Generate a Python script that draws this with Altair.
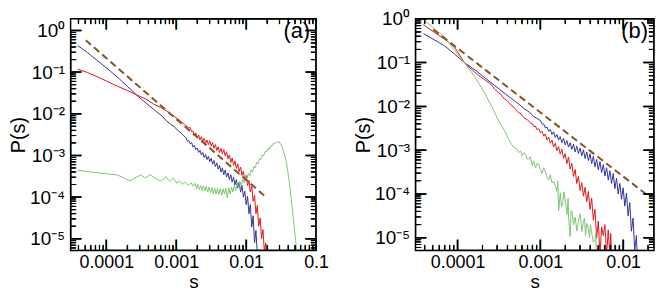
import altair as alt
import pandas as pd

FONT = "Liberation Sans"

# ---------------- tick values ----------------
a_x_major = [1e-4, 1e-3, 1e-2, 1e-1]
a_x_minor = [4e-5, 5e-5, 6e-5, 7e-5, 8e-5, 9e-5,
             2e-4, 3e-4, 4e-4, 5e-4, 6e-4, 7e-4, 8e-4, 9e-4,
             2e-3, 3e-3, 4e-3, 5e-3, 6e-3, 7e-3, 8e-3, 9e-3,
             2e-2, 3e-2, 4e-2, 5e-2, 6e-2, 7e-2, 8e-2, 9e-2]
b_x_major = [1e-4, 1e-3, 1e-2]
b_x_minor = [4e-5, 5e-5, 6e-5, 7e-5, 8e-5, 9e-5,
             2e-4, 3e-4, 4e-4, 5e-4, 6e-4, 7e-4, 8e-4, 9e-4,
             2e-3, 3e-3, 4e-3, 5e-3, 6e-3, 7e-3, 8e-3, 9e-3, 2e-2]
y_major = [1e-5, 1e-4, 1e-3, 1e-2, 1e-1, 1.0]
y_minor = [6e-6, 7e-6, 8e-6, 9e-6,
           2e-5, 3e-5, 4e-5, 5e-5, 6e-5, 7e-5, 8e-5, 9e-5,
           2e-4, 3e-4, 4e-4, 5e-4, 6e-4, 7e-4, 8e-4, 9e-4,
           2e-3, 3e-3, 4e-3, 5e-3, 6e-3, 7e-3, 8e-3, 9e-3,
           2e-2, 3e-2, 4e-2, 5e-2, 6e-2, 7e-2, 8e-2, 9e-2,
           0.2, 0.3, 0.4, 0.5, 0.6, 0.7, 0.8, 0.9]

# ---------------- panel (a) data: log10(s), log10(P) ----------------
a_blue_logs = [-4.41, -4.27, -4.13, -3.99, -3.84, -3.70, -3.56, -3.42, -3.28, -3.20, -3.14, -3.08, -3.03, -2.97, -2.93, -2.90,
               -2.86, -2.84, -2.82, -2.80, -2.78, -2.76, -2.74, -2.72, -2.70, -2.68, -2.66, -2.64, -2.62, -2.60, -2.58, -2.56,
               -2.54, -2.52, -2.50, -2.48, -2.46, -2.44, -2.42, -2.40, -2.38, -2.36, -2.34, -2.32, -2.30, -2.28, -2.26, -2.24,
               -2.22, -2.20, -2.18, -2.16, -2.14, -2.12, -2.10, -2.08, -2.06, -2.04, -2.02, -2.00, -1.98, -1.96, -1.94, -1.92,
               -1.90, -1.88, -1.86, -1.84]
a_blue_logp = [-0.36, -0.53, -0.72, -0.91, -1.12, -1.34, -1.56, -1.76, -1.95, -2.06, -2.17, -2.25, -2.31, -2.41, -2.46, -2.52,
               -2.58, -2.66, -2.64, -2.72, -2.69, -2.80, -2.76, -2.86, -2.82, -2.93, -2.88, -2.99, -2.93, -3.05, -2.98, -3.10,
               -3.02, -3.15, -3.07, -3.21, -3.12, -3.27, -3.18, -3.33, -3.24, -3.40, -3.30, -3.46, -3.35, -3.52, -3.42, -3.58,
               -3.46, -3.64, -3.52, -3.71, -3.58, -3.78, -3.64, -3.88, -3.72, -4.00, -3.86, -4.18, -3.98, -4.40, -4.18, -4.72,
               -4.45, -5.10, -4.80, -5.40]

a_red_logs = [-4.41, -4.27, -4.13, -3.99, -3.84, -3.70, -3.56, -3.42, -3.32, -3.22, -3.13, -3.04, -2.94, -2.88, -2.82,
              -2.80, -2.78, -2.76, -2.74, -2.72, -2.70, -2.68, -2.66, -2.64, -2.62, -2.60, -2.58, -2.56, -2.54, -2.52, -2.50,
              -2.48, -2.46, -2.44, -2.42, -2.40, -2.38, -2.36, -2.34, -2.32, -2.30, -2.28, -2.26, -2.24, -2.22, -2.20, -2.18,
              -2.16, -2.14, -2.12, -2.10, -2.08, -2.06, -2.04, -2.02, -2.00, -1.98, -1.96, -1.94, -1.92, -1.90, -1.88, -1.86,
              -1.84, -1.82, -1.80, -1.78, -1.76, -1.74, -1.72, -1.71]
a_red_logp = [-0.93, -1.01, -1.11, -1.22, -1.34, -1.44, -1.55, -1.66, -1.77, -1.85, -1.94, -2.05, -2.17, -2.26, -2.34,
              -2.33, -2.43, -2.41, -2.52, -2.46, -2.57, -2.51, -2.63, -2.55, -2.67, -2.59, -2.71, -2.63, -2.74, -2.65, -2.78,
              -2.69, -2.83, -2.74, -2.88, -2.79, -2.93, -2.83, -2.96, -2.86, -3.01, -2.91, -3.08, -2.99, -3.17, -3.06, -3.24,
              -3.13, -3.31, -3.20, -3.39, -3.28, -3.48, -3.38, -3.59, -3.48, -3.72, -3.60, -3.88, -3.74, -4.10, -3.96, -4.40,
              -4.20, -4.70, -4.50, -5.00, -4.78, -5.30, -5.10, -5.40]

a_green_logs = [-4.41, -3.84, -3.66, -3.59, -3.51, -3.44, -3.37, -3.30, -3.25, -3.21, -3.15, -3.09, -3.04, -2.99, -2.95,
                -2.91, -2.88, -2.83, -2.79, -2.76, -2.73, -2.71,
                -2.69, -2.67, -2.65, -2.63, -2.61, -2.59, -2.57, -2.55, -2.53, -2.51, -2.49, -2.47, -2.45, -2.43, -2.41,
                -2.39, -2.37, -2.35, -2.33, -2.31, -2.29, -2.27, -2.25, -2.23, -2.21, -2.19, -2.17, -2.15, -2.13, -2.11,
                -2.09, -2.07, -2.05, -2.03, -2.01, -1.99, -1.97, -1.95, -1.93, -1.91, -1.89, -1.87, -1.85, -1.83, -1.81,
                -1.79, -1.77, -1.75, -1.73, -1.71, -1.69, -1.67, -1.65, -1.63, -1.61, -1.59, -1.57, -1.55, -1.53, -1.51,
                -1.49, -1.47, -1.45, -1.43, -1.41, -1.39, -1.37, -1.35, -1.33, -1.31, -1.29, -1.27]
a_green_logp = [-3.36, -3.47, -3.61, -3.54, -3.47, -3.54, -3.46, -3.55, -3.59, -3.61, -3.51, -3.63, -3.54, -3.67, -3.61,
                -3.70, -3.64, -3.72, -3.65, -3.74, -3.67, -3.80,
                -3.70, -3.82, -3.72, -3.84, -3.73, -3.86, -3.74, -3.88, -3.76, -3.90, -3.77, -3.92, -3.78, -3.93, -3.79,
                -3.94, -3.80, -3.96, -3.80, -3.93, -3.79, -4.02, -3.78, -3.92, -3.76, -3.88, -3.72, -3.84, -3.68, -3.78,
                -3.63, -3.72, -3.57, -3.65, -3.50, -3.58, -3.43, -3.49, -3.35, -3.40, -3.26, -3.30, -3.17, -3.20, -3.08,
                -3.10, -2.99, -3.01, -2.91, -2.92, -2.84, -2.85, -2.77, -2.77, -2.71, -2.72, -2.68, -2.69, -2.67, -2.72,
                -2.78, -2.88, -2.99, -3.12, -3.32, -3.56, -3.82, -4.13, -4.45, -4.76, -5.08, -5.40]

a_dash_logs = [-4.294, -1.706]
a_dash_logp = [-0.233, -4.016]

# ---------------- panel (b) data ----------------
b_blue_logs = [-4.412, -4.28, -4.16, -4.04, -3.916, -3.788, -3.655, -3.499, -3.379, -3.259, -3.20, -3.139, -3.08, -3.019,
               -3.00, -2.98, -2.96, -2.94, -2.92, -2.90, -2.88, -2.86, -2.84, -2.82, -2.80, -2.78, -2.76, -2.74, -2.72,
               -2.70, -2.68, -2.66, -2.64, -2.62, -2.60, -2.58, -2.56, -2.54, -2.52, -2.50, -2.48, -2.46, -2.44, -2.42,
               -2.40, -2.38, -2.36, -2.34, -2.32, -2.30, -2.28, -2.26, -2.24, -2.22, -2.20, -2.18, -2.16, -2.14, -2.12,
               -2.10, -2.08, -2.06, -2.04, -2.02, -2.00, -1.98, -1.96, -1.94, -1.92, -1.90, -1.88, -1.86, -1.84, -1.83]
b_blue_logp = [-0.338, -0.482, -0.613, -0.80, -1.002, -1.17, -1.37, -1.60, -1.78, -1.95, -2.05, -2.12, -2.23, -2.30,
               -2.32, -2.40, -2.40, -2.49, -2.47, -2.57, -2.53, -2.64, -2.58, -2.71, -2.64, -2.77, -2.69, -2.83, -2.73,
               -2.88, -2.78, -2.93, -2.83, -2.98, -2.86, -3.04, -2.91, -3.08, -2.95, -3.13, -2.99, -3.19, -3.04, -3.24,
               -3.08, -3.31, -3.14, -3.38, -3.21, -3.45, -3.26, -3.51, -3.33, -3.59, -3.40, -3.68, -3.47, -3.76, -3.53,
               -3.88, -3.64, -4.00, -3.76, -4.12, -3.86, -4.28, -3.98, -4.50, -4.20, -4.85, -4.55, -5.30, -4.95, -5.40]

b_red_logs = [-4.415, -4.28, -4.156, -4.036, -3.916, -3.836, -3.755, -3.679, -3.595, -3.555, -3.515, -3.476, -3.436,
              -3.395, -3.355, -3.315, -3.275, -3.235, -3.199, -3.155, -3.115,
              -3.10, -3.08, -3.06, -3.04, -3.02, -3.00, -2.98, -2.96, -2.94, -2.92, -2.90, -2.88, -2.86, -2.84, -2.82,
              -2.80, -2.78, -2.76, -2.74, -2.72, -2.70, -2.68, -2.66, -2.64, -2.62, -2.60, -2.58, -2.56, -2.54, -2.52,
              -2.50, -2.48, -2.46, -2.44, -2.42, -2.40, -2.38, -2.36, -2.34, -2.32, -2.30, -2.28, -2.26, -2.24, -2.22,
              -2.20, -2.18, -2.16, -2.15, -2.14]
b_red_logp = [-0.133, -0.31, -0.465, -0.648, -1.002, -1.15, -1.277, -1.383, -1.498, -1.60, -1.67, -1.73, -1.83,
              -1.88, -1.969, -2.03, -2.124, -2.17, -2.257, -2.31, -2.383,
              -2.39, -2.46, -2.45, -2.53, -2.51, -2.60, -2.57, -2.68, -2.63, -2.77, -2.70, -2.84, -2.77, -2.93, -2.84,
              -3.01, -2.92, -3.09, -2.98, -3.19, -3.08, -3.31, -3.16, -3.43, -3.30, -3.60, -3.44, -3.76, -3.60, -3.92,
              -3.74, -4.05, -3.85, -4.18, -3.94, -4.35, -4.10, -4.60, -4.35, -5.00, -4.62, -5.40, -4.75, -4.95, -4.70,
              -5.40, -4.82, -5.40, -4.90, -5.40]

b_green_logs = [-4.408, -4.28, -4.156, -4.036, -3.916, -3.796, -3.676, -3.556, -3.499, -3.436,
                -3.379, -3.35, -3.319, -3.29, -3.259, -3.24, -3.220, -3.20, -3.179, -3.16, -3.139, -3.12, -3.100,
                -3.08, -3.059, -3.04, -3.019, -3.00, -2.980, -2.96, -2.939, -2.92, -2.899, -2.88, -2.86, -2.839,
                -2.819, -2.80, -2.79, -2.779, -2.759, -2.745, -2.731, -2.715, -2.699, -2.677, -2.665, -2.659, -2.639,
                -2.629, -2.619, -2.60, -2.579, -2.56, -2.539, -2.52, -2.499, -2.48, -2.467, -2.455, -2.439, -2.42,
                -2.407, -2.395, -2.379, -2.36, -2.339, -2.33, -2.323]
b_green_logp = [-0.029, -0.221, -0.427, -0.723, -1.002, -1.312, -1.681, -2.124, -2.352, -2.544,
                -2.759, -2.86, -2.942, -2.96, -3.053, -3.02, -3.126, -3.06, -3.097, -3.20, -3.201, -3.15, -3.347,
                -3.25, -3.407, -3.30, -3.312, -3.45, -3.533, -3.40, -3.496, -3.62, -3.679, -3.56, -3.74, -3.717,
                -3.827, -3.938, -3.70, -4.381, -3.976, -4.30, -4.226, -3.95, -4.159, -4.469, -4.10, -4.529, -4.971,
                -4.40, -4.381, -4.70, -4.529, -4.85, -4.602, -4.45, -4.861, -4.62, -4.558, -4.95, -4.675, -4.80,
                -5.0, -4.70, -4.896, -5.10, -5.044, -4.90, -5.40]

b_dash_logs = [-4.295, -1.719]
b_dash_logp = [-0.243, -4.011]

BLUE = "#33339a"
RED = "#e4161c"
GREEN = "#7fc477"
BROWN = "#855427"
INK = "#000000"

Y_LABEL_EXPR = ("datum.value > 0.5 ? '10\u2070' : datum.value > 0.05 ? '10\u207b\u00b9' : "
                "datum.value > 0.005 ? '10\u207b\u00b2' : datum.value > 0.0005 ? '10\u207b\u00b3' : "
                "datum.value > 0.00005 ? '10\u207b\u2074' : '10\u207b\u2075'")

MAJOR = 11   # tick lengths in pixels
MINOR = 5


def curve_df(logs, logp):
    return pd.DataFrame({"s": [10.0 ** v for v in logs],
                         "p": [10.0 ** v for v in logp],
                         "i": list(range(len(logs)))})


def x_label_axis(values):
    return alt.Axis(orient="bottom", values=values, format="~g", ticks=False, tickSize=0,
                    domain=False, grid=False, labelFont=FONT, labelFontSize=18, labelColor="black",
                    labelPadding=3, labelFlush=False, labelOverlap=False, title="s", titleFont=FONT,
                    titleFontSize=19, titleFontWeight="normal", titleColor="black", titlePadding=1)


def y_label_axis(values):
    return alt.Axis(orient="left", values=values, labelExpr=Y_LABEL_EXPR, ticks=False, tickSize=0,
                    domain=False, grid=False, labelFont=FONT, labelFontSize=19, labelColor="black",
                    labelPadding=6, labelOverlap=False, title="P(s)", titleFont=FONT, titleFontSize=20,
                    titleFontWeight="normal", titleColor="black", titlePadding=4, minExtent=38, maxExtent=38)


def comb_df(values, along, edge, frac, dom_other):
    """A path running along one frame edge that steps inward at every tick value, by `frac`
    of the plot size (a pixel length expressed in the log scale's units)."""
    lo, hi = dom_other
    if edge == "low":
        a, b = lo, lo * (hi / lo) ** frac
    else:
        a, b = hi, hi * (lo / hi) ** frac
    s_col, p_col = [], []
    for v in values:
        for end in (a, b, a):
            if along == "x":
                s_col.append(v)
                p_col.append(end)
            else:
                s_col.append(end)
                p_col.append(v)
    return pd.DataFrame({"s": s_col, "p": p_col, "i": list(range(len(s_col)))})


def glyph_ticks_x(values, xs, ypix, fs, sw):
    # vertical bar glyphs placed by the x scale
    return alt.Chart(pd.DataFrame({"s": values})).mark_text(
        text="|", font=FONT, fontSize=fs, align="center", baseline="alphabetic",
        color=INK, stroke=INK, strokeWidth=sw
    ).encode(x=alt.X("s:Q", scale=xs, axis=None), y=alt.value(ypix))


def glyph_ticks_y(values, ys, xpix, fs, sw):
    # the same glyph turned by 90 degrees, placed by the y scale
    return alt.Chart(pd.DataFrame({"p": values})).mark_text(
        text="|", font=FONT, fontSize=fs, align="center", baseline="alphabetic", angle=90,
        color=INK, stroke=INK, strokeWidth=sw
    ).encode(y=alt.Y("p:Q", scale=ys, axis=None), x=alt.value(xpix))


def panel(curves, xdom, ydom, xmaj, xmin, tag, w, h):
    xs = alt.Scale(type="log", domain=xdom, nice=False)
    ys = alt.Scale(type="log", domain=ydom, nice=False)
    layers = []
    first = True
    for df, color, width, dash in curves:
        mk = {"color": color, "strokeWidth": width, "clip": True}
        if dash:
            mk["strokeDash"] = dash
        layers.append(
            alt.Chart(df).mark_line(**mk).encode(
                x=alt.X("s:Q", scale=xs, axis=x_label_axis(xmaj) if first else None),
                y=alt.Y("p:Q", scale=ys, axis=y_label_axis(y_major) if first else None),
                order="i:Q",
            )
        )
        first = False
    # frame ticks drawn as edge-hugging paths (same structure as the curves)
    for vals, along, length, dom, size, sw in ((xmaj, "x", MAJOR, ydom, h, 1.5), (xmin, "x", MINOR, ydom, h, 1.0),
                                              (y_major, "y", MAJOR, xdom, w, 1.5), (y_minor, "y", MINOR, xdom, w, 1.0)):
        for edge in ("low", "high"):
            cdf = comb_df(vals, along, edge, length / size, dom)
            layers.append(
                alt.Chart(cdf).mark_line(color=INK, strokeWidth=sw, clip=True).encode(
                    x=alt.X("s:Q", scale=xs, axis=None),
                    y=alt.Y("p:Q", scale=ys, axis=None),
                    order="i:Q",
                )
            )
    # frame ticks as bar glyphs (a bar of font size f spans 0.94 f, centred 0.26 f above its baseline)
    fmaj, fmin = MAJOR / 0.94, MINOR / 0.94
    layers.append(glyph_ticks_x(xmaj, xs, h - MAJOR / 2 + 0.26 * fmaj, fmaj, 0.4))
    layers.append(glyph_ticks_x(xmaj, xs, MAJOR / 2 + 0.26 * fmaj, fmaj, 0.4))
    layers.append(glyph_ticks_x(xmin, xs, h - MINOR / 2 + 0.26 * fmin, fmin, 0.5))
    layers.append(glyph_ticks_x(xmin, xs, MINOR / 2 + 0.26 * fmin, fmin, 0.5))
    layers.append(glyph_ticks_y(y_major, ys, MAJOR / 2 - 0.26 * fmaj, fmaj, 0.4))
    layers.append(glyph_ticks_y(y_major, ys, w - MAJOR / 2 - 0.26 * fmaj, fmaj, 0.4))
    layers.append(glyph_ticks_y(y_minor, ys, MINOR / 2 - 0.26 * fmin, fmin, 0.5))
    layers.append(glyph_ticks_y(y_minor, ys, w - MINOR / 2 - 0.26 * fmin, fmin, 0.5))
    layers.append(
        alt.Chart(pd.DataFrame({"t": [tag]})).mark_text(
            align="right", baseline="middle", font=FONT, fontSize=22, color="black"
        ).encode(text="t:N", x=alt.value(w - 6), y=alt.value(12))
    )
    return alt.layer(*layers).resolve_axis(x="independent", y="independent").properties(width=w, height=h)


pa = panel(
    [(curve_df(a_blue_logs, a_blue_logp), BLUE, 1, None),
     (curve_df(a_red_logs, a_red_logp), RED, 1, None),
     (curve_df(a_green_logs, a_green_logp), GREEN, 1, None),
     (curve_df(a_dash_logs, a_dash_logp), BROWN, 2, [7, 4])],
    [3.09e-5, 0.1], [5.25e-6, 1.905], a_x_major, a_x_minor, "(a)", 247, 233)

pb = panel(
    [(curve_df(b_blue_logs, b_blue_logp), BLUE, 1, None),
     (curve_df(b_red_logs, b_red_logp), RED, 1, None),
     (curve_df(b_green_logs, b_green_logp), GREEN, 1, None),
     (curve_df(b_dash_logs, b_dash_logp), BROWN, 2, [7, 4])],
    [3.1e-5, 0.0236], [5.15e-6, 1.0], b_x_major, b_x_minor, "(b)", 240, 233)

chart = alt.hconcat(pa, pb, spacing=100, bounds="flush").configure_view(
    stroke="black", strokeWidth=1.5
).properties(padding={"left": 0, "top": 0, "right": 0, "bottom": 0})

chart.save("out.html", embed_options={"renderer": "svg", "actions": False})
